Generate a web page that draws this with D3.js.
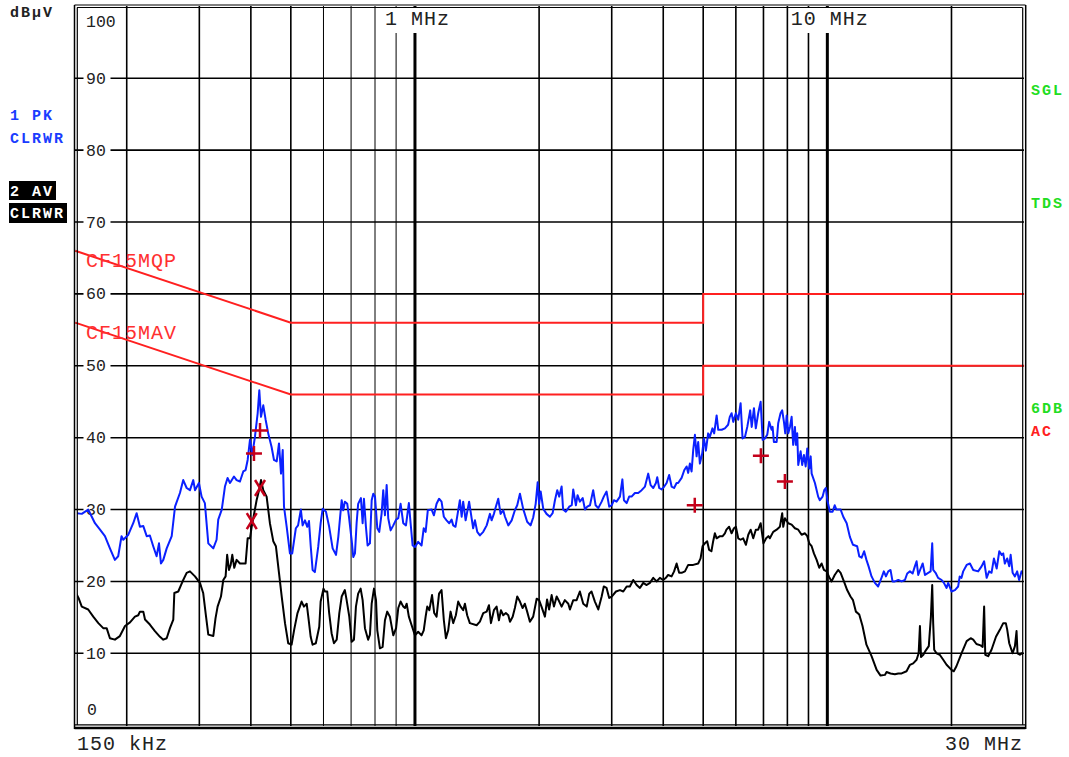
<!DOCTYPE html>
<html>
<head>
<meta charset="utf-8">
<script src="https://cdn.jsdelivr.net/npm/d3@7"></script>
<style>
body { margin: 0; background: #fff; }
svg { display: block; }
text { font-family: "Liberation Mono", "DejaVu Sans Mono", monospace; }
</style>
</head>
<body>
<svg id="chart" width="1069" height="757"></svg>
<script>
// trace 1: peak detector (MHz, dBuV)
const pkTrace = [[0.150,29.5],[0.1556,29.4],[0.1613,30.0],[0.1675,28.1],[0.1723,27.2],[0.1771,26.3],[0.1821,24.6],[0.1872,23.0],[0.1907,23.5],[0.1943,26.3],[0.1962,25.8],[0.2018,26.5],[0.2074,28.1],[0.2114,29.5],[0.2153,27.6],[0.2194,27.7],[0.2236,26.3],[0.2276,26.4],[0.2319,24.9],[0.2363,23.5],[0.2395,25.3],[0.2421,22.5],[0.2453,23.0],[0.250,24.6],[0.2571,26.3],[0.2619,30.4],[0.2692,32.3],[0.2742,34.1],[0.2795,33.0],[0.2847,32.7],[0.290,34.1],[0.2928,32.7],[0.2993,33.7],[0.3038,31.8],[0.3094,30.9],[0.3154,25.3],[0.3243,24.6],[0.3303,25.8],[0.3334,28.6],[0.340,30.0],[0.3461,33.2],[0.3512,34.4],[0.356,33.7],[0.364,34.6],[0.3694,34.1],[0.3764,33.9],[0.3834,35.3],[0.3884,35.5],[0.3929,36.9],[0.398,39.7],[0.4031,37.6],[0.4092,40.1],[0.4155,43.4],[0.4193,46.6],[0.4233,42.9],[0.4287,44.5],[0.4344,42.5],[0.4407,40.6],[0.4491,38.7],[0.4551,36.9],[0.4621,36.7],[0.468,39.2],[0.4733,35.0],[0.4779,38.3],[0.4813,30.4],[0.4886,27.6],[0.4975,23.9],[0.5039,23.9],[0.5142,27.4],[0.5206,27.8],[0.5288,30.0],[0.534,27.8],[0.5411,28.5],[0.5481,27.6],[0.5534,28.4],[0.5586,25.0],[0.5647,21.6],[0.5718,21.3],[0.5826,24.8],[0.5906,28.1],[0.5973,30.1],[0.6084,29.7],[0.6194,27.6],[0.6315,24.6],[0.6435,23.7],[0.6518,26.2],[0.658,28.8],[0.6642,31.3],[0.670,29.9],[0.6761,31.1],[0.6852,30.8],[0.6918,29.0],[0.7023,25.7],[0.7086,23.4],[0.7153,23.9],[0.7219,28.1],[0.7282,30.8],[0.7395,31.6],[0.7466,28.1],[0.7521,31.5],[0.7605,27.6],[0.7676,25.0],[0.7777,25.3],[0.7853,31.3],[0.7924,32.2],[0.800,31.8],[0.8103,27.4],[0.8192,26.9],[0.830,29.4],[0.8377,32.7],[0.8457,29.2],[0.8538,33.4],[0.8614,28.8],[0.8729,27.1],[0.886,27.8],[0.900,28.6],[0.911,28.8],[0.9229,30.8],[0.9367,28.1],[0.951,27.8],[0.9665,30.9],[0.976,28.1],[0.987,25.0],[1.0,24.8],[1.018,25.5],[1.0374,25.0],[1.0502,27.4],[1.0614,26.9],[1.0743,29.9],[1.0976,30.0],[1.1117,29.2],[1.1283,30.8],[1.144,31.5],[1.160,31.1],[1.175,29.0],[1.193,28.5],[1.211,28.1],[1.227,28.6],[1.238,27.8],[1.254,27.6],[1.269,29.4],[1.285,31.3],[1.298,29.0],[1.309,31.1],[1.327,28.5],[1.341,29.9],[1.353,31.1],[1.372,28.8],[1.384,27.4],[1.398,28.5],[1.416,26.9],[1.437,26.4],[1.464,26.9],[1.4925,27.8],[1.520,29.4],[1.534,28.5],[1.554,29.4],[1.571,30.4],[1.592,31.5],[1.613,29.4],[1.637,29.9],[1.653,29.0],[1.684,27.8],[1.716,28.5],[1.747,29.9],[1.770,30.6],[1.797,32.2],[1.830,30.1],[1.871,28.3],[1.907,27.8],[1.935,28.9],[1.962,30.8],[1.984,33.8],[2.0,30.8],[2.018,32.5],[2.047,30.1],[2.085,29.4],[2.124,29.0],[2.157,29.5],[2.185,31.3],[2.213,32.7],[2.238,31.8],[2.268,33.2],[2.287,30.0],[2.322,29.7],[2.366,30.4],[2.40,30.6],[2.420,32.8],[2.456,30.6],[2.479,32.0],[2.511,31.1],[2.551,31.6],[2.584,30.0],[2.617,30.4],[2.657,30.6],[2.705,32.7],[2.742,30.6],[2.783,30.2],[2.836,31.1],[2.87,31.8],[2.915,32.5],[2.958,30.4],[3.0,30.6],[3.037,31.3],[3.082,31.1],[3.141,31.8],[3.184,34.2],[3.212,31.3],[3.261,30.9],[3.307,31.8],[3.352,31.8],[3.415,32.3],[3.478,32.3],[3.546,32.7],[3.612,33.2],[3.678,35.0],[3.728,33.4],[3.783,33.0],[3.840,33.7],[3.868,34.5],[3.911,33.0],[3.964,32.8],[4.022,33.2],[4.076,33.7],[4.134,34.8],[4.191,33.2],[4.25,33.0],[4.31,33.7],[4.347,33.7],[4.432,34.4],[4.5,35.5],[4.558,36.0],[4.598,35.1],[4.641,36.4],[4.686,35.3],[4.729,38.3],[4.774,40.4],[4.819,37.4],[4.862,39.4],[4.908,36.4],[4.972,37.8],[5.02,39.9],[5.075,38.2],[5.14,40.6],[5.187,40.1],[5.265,41.3],[5.316,40.6],[5.389,43.1],[5.438,41.1],[5.543,41.1],[5.644,41.3],[5.746,41.8],[5.80,42.9],[5.859,43.4],[5.913,42.2],[6.0,43.4],[6.08,42.5],[6.161,44.8],[6.228,39.9],[6.312,40.1],[6.395,41.5],[6.5,43.8],[6.555,41.5],[6.638,44.1],[6.707,41.3],[6.797,43.4],[6.891,45.0],[6.969,39.7],[7.059,39.9],[7.148,40.4],[7.227,42.2],[7.325,41.1],[7.366,41.5],[7.42,39.4],[7.534,39.4],[7.60,42.0],[7.70,43.4],[7.772,43.8],[7.848,42.2],[7.906,40.6],[7.969,43.1],[8.04,40.6],[8.116,41.5],[8.192,42.9],[8.263,39.0],[8.344,41.5],[8.391,39.0],[8.452,40.6],[8.5,36.2],[8.614,38.1],[8.69,36.2],[8.774,37.6],[8.86,36.0],[8.94,38.5],[9.04,35.7],[9.111,37.4],[9.161,35.0],[9.33,33.7],[9.5,31.8],[9.59,31.3],[9.738,31.8],[9.827,32.7],[9.922,33.0],[10.0,31.3],[10.145,29.7],[10.296,29.7],[10.42,30.6],[10.52,30.0],[10.77,30.0],[10.93,29.0],[11.14,28.1],[11.34,26.2],[11.54,25.1],[11.81,24.9],[11.95,23.5],[12.11,23.3],[12.28,24.2],[12.44,23.0],[12.59,22.1],[12.80,20.7],[13.04,19.8],[13.28,19.3],[13.53,20.5],[13.71,21.4],[13.87,20.7],[14.05,21.4],[14.23,21.6],[14.39,20.0],[14.58,20.0],[14.86,20.2],[15.14,20.0],[15.42,20.2],[15.62,21.1],[15.86,21.4],[16.10,21.1],[16.30,22.1],[16.46,22.8],[16.61,20.9],[16.84,21.8],[17.03,22.5],[17.25,20.9],[17.56,21.2],[17.80,21.4],[17.96,25.3],[18.06,21.6],[18.30,21.2],[18.56,20.5],[18.93,20.2],[19.17,19.8],[19.46,19.1],[19.64,19.8],[20.0,18.6],[20.39,18.8],[20.76,19.3],[20.94,20.7],[21.15,20.5],[21.35,21.4],[21.77,22.3],[22.17,22.5],[22.58,21.6],[23.21,21.4],[23.66,22.1],[24.0,22.8],[24.34,20.5],[24.68,21.4],[25.01,21.2],[25.35,23.2],[25.74,21.8],[26.12,24.2],[26.47,23.7],[26.70,23.9],[26.94,22.5],[27.30,23.2],[27.61,22.1],[27.83,23.7],[28.14,21.2],[28.50,20.7],[28.86,21.4],[29.18,20.2],[29.58,21.4],[30.0,21.0]];

// trace 2: average detector (MHz, dBuV)
const avTrace = [[0.150,18.6],[0.1528,17.7],[0.1556,16.5],[0.1613,16.1],[0.1659,15.1],[0.1707,14.2],[0.1754,13.5],[0.1788,13.5],[0.1821,12.1],[0.1872,11.9],[0.1925,12.4],[0.1981,13.8],[0.2037,14.3],[0.2094,15.1],[0.2133,15.3],[0.2153,15.8],[0.2194,15.8],[0.2215,14.7],[0.2276,14.0],[0.2341,13.1],[0.2408,12.3],[0.2453,11.9],[0.250,12.1],[0.2546,13.5],[0.2594,14.7],[0.2609,18.4],[0.2667,18.6],[0.2708,19.5],[0.2742,20.2],[0.2795,21.2],[0.2847,21.4],[0.2928,20.7],[0.3010,19.8],[0.3065,18.4],[0.3107,15.6],[0.3154,12.6],[0.3243,12.4],[0.3284,14.9],[0.3322,16.5],[0.3385,17.9],[0.3429,20.2],[0.3474,20.7],[0.3504,23.7],[0.354,21.6],[0.3574,22.3],[0.3606,23.7],[0.3646,21.9],[0.3694,23.0],[0.3764,22.5],[0.3884,22.5],[0.3929,26.0],[0.398,26.0],[0.4018,27.6],[0.4076,29.5],[0.4130,31.3],[0.4186,32.7],[0.4233,34.1],[0.4287,32.7],[0.4368,31.8],[0.4449,28.1],[0.4533,25.6],[0.46,24.9],[0.468,21.2],[0.4752,17.9],[0.484,14.2],[0.4928,11.4],[0.5022,11.2],[0.5095,13.3],[0.519,15.6],[0.531,17.2],[0.538,16.5],[0.5463,16.9],[0.5512,15.1],[0.5586,12.3],[0.5647,11.2],[0.5749,11.4],[0.586,13.7],[0.5906,17.2],[0.600,19.0],[0.605,18.6],[0.6127,18.6],[0.6194,15.6],[0.6278,12.8],[0.6362,11.4],[0.646,11.9],[0.6555,15.6],[0.6642,17.9],[0.6761,18.8],[0.6828,17.4],[0.693,15.1],[0.7023,11.6],[0.7113,11.9],[0.7192,16.5],[0.7282,18.3],[0.7383,19.0],[0.7466,17.4],[0.7563,13.5],[0.770,11.9],[0.7777,12.6],[0.7853,16.9],[0.7955,19.0],[0.8045,17.4],[0.8103,13.2],[0.8223,10.7],[0.8348,10.9],[0.8457,14.6],[0.8566,15.8],[0.8694,15.1],[0.886,12.5],[0.900,13.5],[0.911,16.3],[0.9229,17.2],[0.9367,16.5],[0.9457,16.3],[0.9548,16.9],[0.9665,15.1],[0.9816,13.9],[1.0,12.5],[1.018,13.0],[1.0374,12.5],[1.0502,13.2],[1.0614,15.1],[1.0709,16.5],[1.0837,16.0],[1.1,18.1],[1.1135,15.6],[1.1283,15.1],[1.144,18.3],[1.160,18.8],[1.175,14.6],[1.1886,12.1],[1.204,13.2],[1.220,15.8],[1.238,14.2],[1.2565,15.3],[1.273,17.2],[1.2905,16.5],[1.309,16.0],[1.3217,16.9],[1.3385,15.3],[1.3586,14.2],[1.411,13.9],[1.437,14.4],[1.464,15.6],[1.4925,15.8],[1.5117,16.7],[1.5285,14.2],[1.554,16.0],[1.5776,16.5],[1.598,14.6],[1.616,16.0],[1.637,15.3],[1.661,15.6],[1.684,15.3],[1.70,14.4],[1.7255,15.1],[1.747,16.3],[1.770,17.9],[1.797,17.2],[1.824,16.3],[1.847,16.9],[1.871,15.8],[1.90,14.4],[1.935,15.1],[1.973,17.6],[2.0,17.4],[2.027,16.5],[2.066,15.1],[2.091,17.5],[2.115,16.1],[2.145,18.1],[2.173,16.5],[2.206,17.9],[2.238,17.2],[2.268,16.5],[2.309,17.4],[2.354,16.9],[2.376,16.1],[2.420,17.4],[2.466,17.4],[2.511,18.6],[2.559,16.9],[2.609,16.5],[2.6465,18.3],[2.680,18.6],[2.731,17.2],[2.783,16.1],[2.836,17.9],[2.87,19.3],[2.915,19.1],[2.958,17.7],[3.0,17.9],[3.072,18.6],[3.141,18.8],[3.2,18.6],[3.261,19.3],[3.320,19.3],[3.383,20.2],[3.448,19.5],[3.512,19.1],[3.578,19.8],[3.646,19.5],[3.713,19.8],[3.783,20.5],[3.855,20.0],[3.926,20.5],[4.0,20.2],[4.06,20.5],[4.110,20.9],[4.191,20.7],[4.25,21.4],[4.31,22.5],[4.371,21.2],[4.432,21.2],[4.515,21.4],[4.598,22.3],[4.729,22.3],[4.862,22.5],[4.927,23.2],[4.983,24.9],[5.047,25.3],[5.112,25.6],[5.167,24.4],[5.235,24.2],[5.286,25.6],[5.337,26.7],[5.389,26.0],[5.491,26.3],[5.574,26.3],[5.644,26.7],[5.692,27.2],[5.779,27.6],[5.859,26.7],[5.936,27.4],[6.0,27.6],[6.08,26.0],[6.161,25.8],[6.25,26.0],[6.347,25.1],[6.431,26.5],[6.518,27.2],[6.612,26.0],[6.707,27.2],[6.797,27.2],[6.891,28.1],[7.0,25.3],[7.106,26.0],[7.195,26.3],[7.253,26.0],[7.391,26.9],[7.534,27.2],[7.672,27.6],[7.772,29.5],[7.817,27.6],[7.893,28.8],[8.04,28.1],[8.192,27.9],[8.344,27.4],[8.5,27.2],[8.662,26.5],[8.825,26.7],[8.94,26.3],[9.04,25.3],[9.161,24.9],[9.277,23.9],[9.42,23.0],[9.558,21.9],[9.685,22.5],[9.81,21.6],[9.96,21.4],[10.106,20.6],[10.24,20.0],[10.42,20.9],[10.62,21.6],[10.77,21.2],[10.97,20.0],[11.17,18.8],[11.38,17.9],[11.54,17.4],[11.73,15.8],[11.95,15.4],[12.17,13.8],[12.44,11.2],[12.80,9.6],[13.17,7.7],[13.46,6.9],[13.79,7.0],[13.92,7.4],[14.23,7.2],[14.58,7.1],[14.86,7.2],[15.14,7.2],[15.56,7.5],[15.86,8.4],[16.15,8.6],[16.46,9.1],[16.65,10.0],[16.77,13.8],[16.87,9.5],[17.09,9.8],[17.28,10.3],[17.62,11.0],[17.83,15.1],[17.96,19.5],[18.06,14.1],[18.16,10.5],[18.40,10.0],[18.73,9.8],[19.10,9.1],[19.46,8.4],[20.0,7.7],[20.26,7.5],[20.56,8.2],[21.15,10.0],[21.77,11.7],[22.26,12.1],[22.58,11.9],[22.99,11.3],[23.53,11.1],[23.80,10.9],[24.0,16.5],[24.15,9.8],[24.55,9.6],[25.01,10.5],[25.64,12.3],[26.22,13.3],[26.70,14.2],[27.09,14.2],[27.30,13.3],[27.61,11.4],[28.14,10.0],[28.50,11.0],[28.76,13.1],[28.92,10.0],[29.30,9.8],[29.58,10.0],[30.0,9.8]];

// limit lines
const qpLimit = [[0.15,66],[0.5,56],[5,56],[5,60],[30,60]];
const avLimit = [[0.15,56],[0.5,46],[5,46],[5,50],[30,50]];

// final measurement markers
const plusMarks = [[0.421,41.0],[0.407,37.8],[4.77,30.6],[6.90,37.5],[7.89,33.9]];
const crossMarks = [[0.421,33.0],[0.402,28.4]];

const gridFreqs = [0.2,0.3,0.4,0.5,0.6,0.7,0.8,0.9,1,2,3,4,5,6,7,8,9,10,20];
const yTicks = [10,20,30,40,50,60,70,80,90];

const svg = d3.select("#chart");
const x = d3.scaleLog().domain([0.15, 30]).range([75.2, 1024.1]);
const y = d3.scaleLinear().domain([0, 100]).range([725.2, 6.4]);

svg.append("rect").attr("width", 1069).attr("height", 757).attr("fill", "#fff");

// vertical grid
svg.append("g").selectAll("line")
    .data(gridFreqs).join("line")
    .attr("x1", d => x(d)).attr("x2", d => x(d))
    .attr("y1", 6).attr("y2", 726)
    .attr("stroke", "#000")
    .attr("stroke-width", d => (d === 1 || d === 10) ? 3 : (d > 0.55 && d < 0.95) ? 1 : 1.6);

// horizontal grid
svg.append("g").selectAll("line")
    .data(yTicks).join("line")
    .attr("x1", 75).attr("x2", 1024)
    .attr("y1", d => y(d)).attr("y2", d => y(d))
    .attr("stroke", "#000").attr("stroke-width", 1.6);

// white boxes behind labels
svg.append("g").selectAll("rect")
    .data(yTicks).join("rect")
    .attr("x", 83.5).attr("width", 27)
    .attr("y", d => y(d) - 8).attr("height", 16)
    .attr("fill", "#fff");
svg.append("rect").attr("x", x(1) - 32).attr("width", 69).attr("y", 8).attr("height", 25).attr("fill", "#fff");
svg.append("rect").attr("x", x(10) - 36.5).attr("width", 80).attr("y", 8).attr("height", 25).attr("fill", "#fff");

// y tick labels
svg.append("g").selectAll("text")
    .data(yTicks).join("text")
    .attr("x", 86).attr("y", d => y(d) + 5.5)
    .attr("font-size", 16.5).attr("fill", "#222")
    .text(d => d);
svg.append("text").attr("x", 86).attr("y", y(100) + 21).attr("font-size", 16.5).attr("fill", "#222").text("100");
svg.append("text").attr("x", 87).attr("y", y(0) - 10).attr("font-size", 16.5).attr("fill", "#222").text("0");

// frequency labels
const freqLabel = (tx, ty, s, anchor) => svg.append("text")
    .attr("x", tx).attr("y", ty).attr("text-anchor", anchor || "start")
    .attr("font-size", 20).attr("letter-spacing", 1).attr("fill", "#222").text(s);
freqLabel(x(1) - 30, 25, "1 MHz");
freqLabel(x(10) - 36.5, 25, "10 MHz");
freqLabel(77, 750, "150 kHz");
freqLabel(1023, 750, "30 MHz", "end");

// limit lines
const line = d3.line().x(d => x(d[0])).y(d => y(d[1]));
[qpLimit, avLimit].forEach(lim => {
    svg.append("path").attr("d", line(lim))
        .attr("fill", "none").attr("stroke", "#ff2020").attr("stroke-width", 2);
});
svg.append("text").attr("x", 86).attr("y", 267).attr("font-size", 20).attr("letter-spacing", 1)
    .attr("fill", "#ff3030").text("CF15MQP");
svg.append("text").attr("x", 86).attr("y", 339).attr("font-size", 20).attr("letter-spacing", 1)
    .attr("fill", "#ff3030").text("CF15MAV");

// traces
svg.append("clipPath").attr("id", "plotclip").append("rect")
    .attr("x", 77).attr("y", 7).attr("width", 946).attr("height", 718);
const traces = svg.append("g").attr("clip-path", "url(#plotclip)");
traces.append("path").attr("d", line(avTrace))
    .attr("fill", "none").attr("stroke", "#000").attr("stroke-width", 2).attr("stroke-linejoin", "round");
traces.append("path").attr("d", line(pkTrace))
    .attr("fill", "none").attr("stroke", "#0a20ff").attr("stroke-width", 2).attr("stroke-linejoin", "round");

// markers
svg.append("g").selectAll("path")
    .data(plusMarks).join("path")
    .attr("transform", d => `translate(${x(d[0])},${y(d[1])})`)
    .attr("d", "M-8,0H8M0,-7.5V7.5")
    .attr("stroke", "#c4001a").attr("stroke-width", 2.5).attr("fill", "none");
svg.append("g").selectAll("path")
    .data(crossMarks).join("path")
    .attr("transform", d => `translate(${x(d[0])},${y(d[1])})`)
    .attr("d", "M-5,-8L5,8M5,-8L-5,8")
    .attr("stroke", "#c4001a").attr("stroke-width", 2.5).attr("fill", "none");

// frame (double border)
const frame = svg.append("g").attr("stroke", "#000").attr("fill", "none");
frame.append("line").attr("x1", 74.5).attr("x2", 1025.5).attr("y1", 5).attr("y2", 5).attr("stroke-width", 1.2);
frame.append("line").attr("x1", 77).attr("x2", 1022.5).attr("y1", 7.5).attr("y2", 7.5).attr("stroke-width", 1);
frame.append("line").attr("x1", 74.5).attr("x2", 74.5).attr("y1", 5).attr("y2", 729).attr("stroke-width", 1.5);
frame.append("line").attr("x1", 77.3).attr("x2", 77.3).attr("y1", 7.5).attr("y2", 725).attr("stroke-width", 1.2);
frame.append("line").attr("x1", 1022.7).attr("x2", 1022.7).attr("y1", 7.5).attr("y2", 725).attr("stroke-width", 1.2);
frame.append("line").attr("x1", 1025.7).attr("x2", 1025.7).attr("y1", 5).attr("y2", 729).attr("stroke-width", 1.5);
frame.append("line").attr("x1", 74.5).attr("x2", 1025.5).attr("y1", 724.8).attr("y2", 724.8).attr("stroke-width", 1.2);
frame.append("line").attr("x1", 74.5).attr("x2", 1025.5).attr("y1", 728).attr("y2", 728).attr("stroke-width", 2.5);

// side annotations
const sideLabel = (tx, ty, s, color) => svg.append("text")
    .attr("x", tx).attr("y", ty).attr("font-size", 15).attr("font-weight", "bold")
    .attr("letter-spacing", 2).attr("fill", color).text(s);
sideLabel(10, 17, "dBµV", "#222");
sideLabel(10, 120, "1 PK", "#1a3cff");
sideLabel(10, 143, "CLRWR", "#1a3cff");
svg.append("rect").attr("x", 9).attr("y", 181).attr("width", 47).attr("height", 19).attr("fill", "#000");
svg.append("rect").attr("x", 9).attr("y", 203).attr("width", 58).attr("height", 20).attr("fill", "#000");
sideLabel(10, 196, "2 AV", "#fff");
sideLabel(10, 218, "CLRWR", "#fff");
sideLabel(1031, 95, "SGL", "#22dd22");
sideLabel(1031, 208, "TDS", "#22dd22");
sideLabel(1031, 413, "6DB", "#22dd22");
sideLabel(1031, 436, "AC", "#ff2020");
</script>
</body>
</html>
